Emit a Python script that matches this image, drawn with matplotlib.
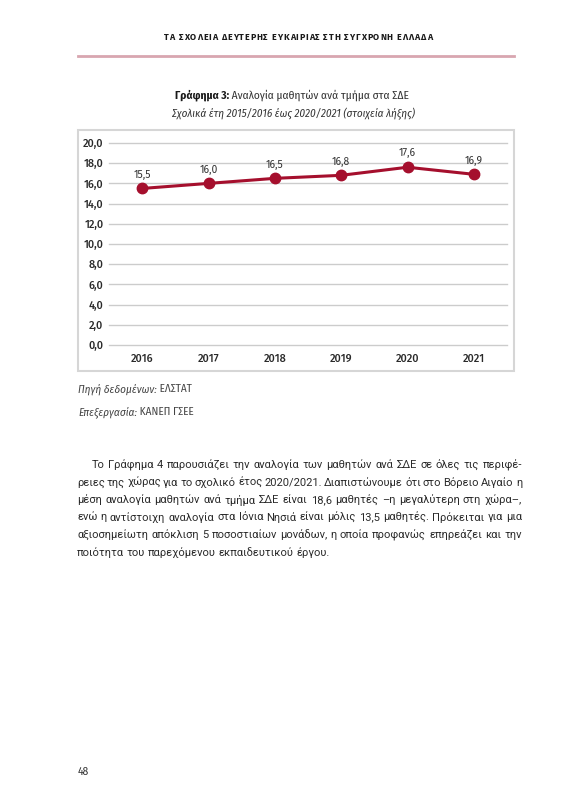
import matplotlib
matplotlib.use("Agg")
import matplotlib.pyplot as plt
from matplotlib.patches import Rectangle
from matplotlib.lines import Line2D

# data
years = ["2016", "2017", "2018", "2019", "2020", "2021"]
ratio = [15.5, 16.0, 16.5, 16.8, 17.6, 16.9]
yticks = [0, 2, 4, 6, 8, 10, 12, 14, 16, 18, 20]

header = "ΤΑ ΣΧΟΛΕΙΑ ΔΕΥΤΕΡΗΣ ΕΥΚΑΙΡΙΑΣ ΣΤΗ ΣΥΓΧΡΟΝΗ ΕΛΛΑΔΑ"
title_bold = "Γράφημα 3:"
title_rest = " Αναλογία μαθητών ανά τμήμα στα ΣΔΕ"
subtitle = "Σχολικά έτη 2015/2016 έως 2020/2021 (στοιχεία λήξης)"
source_lines = [("Πηγή δεδομένων:", " ΕΛΣΤΑΤ"), ("Επεξεργασία:", " ΚΑΝΕΠ ΓΣΕΕ")]
para = [
    "Το Γράφημα 4 παρουσιάζει την αναλογία των μαθητών ανά ΣΔΕ σε όλες τις περιφέ-",
    "ρειες της χώρας για το σχολικό έτος 2020/2021. Διαπιστώνουμε ότι στο Βόρειο Αιγαίο η",
    "μέση αναλογία μαθητών ανά τμήμα ΣΔΕ είναι 18,6 μαθητές –η μεγαλύτερη στη χώρα–,",
    "ενώ η αντίστοιχη αναλογία στα Ιόνια Νησιά είναι μόλις 13,5 μαθητές. Πρόκειται για μια",
    "αξιοσημείωτη απόκλιση 5 ποσοστιαίων μονάδων, η οποία προφανώς επηρεάζει και την",
    "ποιότητα του παρεχόμενου εκπαιδευτικού έργου.",
]
page_no = "48"

W, H = 562, 800
RED = "#a50f2d"
TXT = "#333333"
COND = ["Fira Sans Condensed", "Roboto", "DejaVu Sans"]
SANS = ["Fira Sans", "Open Sans", "DejaVu Sans"]
BODY = ["Roboto", "Open Sans", "DejaVu Sans"]

plt.rcParams["font.family"] = SANS

fig = plt.figure(figsize=(W / 100, H / 100), dpi=100)
fig.patch.set_facecolor("white")
r = fig.canvas.get_renderer()


def fx(x):
    return x / W


def fy(y):
    return 1 - y / H


def put(s, x, y, **kw):
    kw.setdefault("color", TXT)
    kw.setdefault("va", "center")
    return fig.text(fx(x), fy(y), s, **kw)


def wpx(t):
    return t.get_window_extent(renderer=r).width


def measure(s, **kw):
    t = put(s, 0, 0, **kw)
    w = wpx(t)
    t.remove()
    return w


# header with letter spacing, spread over the same width as in the page
hkw = dict(fontsize=6.4, fontweight="bold", family=SANS)
chars = [put(c, 0, 37, ha="left", color="#1a1a1a", **hkw) for c in header]
sp_h = measure("A A", **hkw) - measure("AA", **hkw)
cw = [sp_h if c == " " else wpx(t) for c, t in zip(header, chars)]
track = (268 - sum(cw)) / (len(header) - 1)
x = 298 - 268 / 2
for t, w in zip(chars, cw):
    t.set_x(fx(x))
    x += w + track

fig.add_artist(Line2D([fx(78), fx(514)], [fy(56), fy(56)], color="#d8a6b0", lw=2))

# chart title
ts = 10
tw0 = measure(title_bold, fontsize=ts, fontweight="bold", family=COND) + \
    measure(title_rest, fontsize=ts, family=COND)
ts = ts * 234 / tw0
tb = put(title_bold, 0, 95, ha="left", fontsize=ts, fontweight="bold", color="#1a1a1a", family=COND)
tr = put(title_rest, 0, 95, ha="left", fontsize=ts, family=COND)
wb, wr = wpx(tb), wpx(tr)
x0 = 292 - (wb + wr) / 2
tb.set_x(fx(x0))
tr.set_x(fx(x0 + wb))
ss = 10 * 243 / measure(subtitle, fontsize=10, style="italic", family=COND)
put(subtitle, 293, 114, ha="center", fontsize=ss, style="italic", family=COND)

# chart box
fig.add_artist(Rectangle((fx(78), fy(371)), (514 - 78) / W, (371 - 130) / H,
                         transform=fig.transFigure, fill=False, ec="#d6d6d6", lw=1.5))

ax = fig.add_axes([fx(109), fy(345), (507 - 109) / W, (345 - 143) / H])
ax.patch.set_alpha(0)
xs = list(range(len(years)))
ax.plot(xs, ratio, color=RED, lw=2.2, marker="o", ms=7.5, zorder=3)
ax.set_xlim(-0.5, len(years) - 0.5)
ax.set_ylim(0, 20)
ax.set_yticks(yticks)
ax.set_yticklabels([f"{v:.1f}".replace(".", ",") for v in yticks])
ax.set_xticks(xs)
ax.set_xticklabels(years)
ax.grid(axis="y", color="#cccccc", lw=1)
ax.grid(axis="x", visible=False)
for gl in ax.get_ygridlines():
    gl.set_clip_on(False)
ax.set_axisbelow(True)
for s in ax.spines.values():
    s.set_visible(False)
ax.tick_params(length=0, labelsize=7.8, labelcolor="#2a2a2a")
ax.tick_params(axis="y", pad=4)
ax.tick_params(axis="x", pad=6)
for lab in ax.get_xticklabels() + ax.get_yticklabels():
    lab.set_fontweight(500)
for i, v in enumerate(ratio):
    ax.annotate(f"{v:.1f}".replace(".", ","), (i, v), xytext=(0, 10), textcoords="offset points",
                ha="center", va="center", fontsize=7.4, color=TXT)

# source lines
for (it, rest), y in zip(source_lines, [389, 412]):
    a = put(it, 78, y, ha="left", fontsize=8.0, style="italic", color="#444444", family=COND)
    put(rest, 78 + wpx(a), y, ha="left", fontsize=8.0, color="#444444", family=COND)

# paragraph, justified
left, right = 77, 522
indent = 92
starts = [indent] + [left] * (len(para) - 1)
base = 10.0
fits = sorted((right - s) / measure(l, fontsize=base, family=BODY) for s, l in zip(starts[:-1], para[:-1]))
ps = base * fits[1] * 0.99
pkw = dict(fontsize=ps, family=BODY)
sp = measure("a a", **pkw) - measure("aa", **pkw)
ys = [465 + 17.5 * i for i in range(len(para))]
for k, (line, x0, y) in enumerate(zip(para, starts, ys)):
    words = line.split(" ")
    tw = [put(w, x0, y, ha="left", color="#2a2a2a", **pkw) for w in words]
    ww = [wpx(t) for t in tw]
    last = k == len(para) - 1
    gap = sp if last else max((right - x0 - sum(ww)) / (len(ww) - 1), 0.6 * sp)
    x = x0
    for t, w in zip(tw, ww):
        t.set_x(fx(x))
        x += w + gap

put(page_no, 78, 772, ha="left", fontsize=8.2, family=COND)

fig.savefig("out.png", dpi=100, facecolor="white")
